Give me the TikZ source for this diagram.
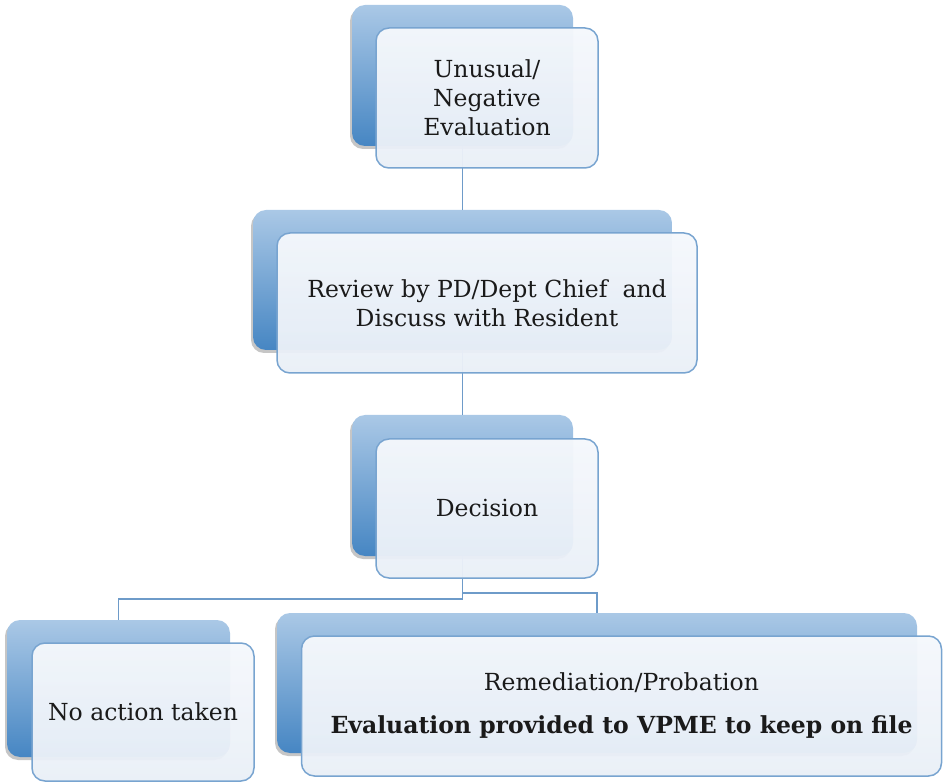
\documentclass[tikz,border=0pt]{standalone}
\usepackage{fontspec}
\setmainfont{DejaVu Serif}
\usetikzlibrary{shadows}
\definecolor{backtop}{HTML}{AAC8E6}
\definecolor{backbot}{HTML}{4686C3}
\definecolor{frtop}{HTML}{F5F8FC}
\definecolor{frbot}{HTML}{E9EFF7}
\definecolor{edge}{HTML}{78A4D0}
\definecolor{conn}{HTML}{6E9BC9}
\definecolor{txt}{HTML}{1A1A1A}
\tikzset{
  backbox/.style={rounded corners=13pt, top color=backtop, bottom color=backbot, draw=none,
    drop shadow={shadow xshift=-2pt, shadow yshift=-3pt, opacity=0.45}},
  frontbox/.style={rounded corners=13pt, top color=frtop, bottom color=frbot, fill opacity=0.96,
    text opacity=1, draw=edge, line width=1.5pt, align=center, inner sep=0pt, text=txt,
    font=\fontsize{23.5}{29}\selectfont},
  connector/.style={draw=conn, line width=1.7pt}
}
\begin{document}
\begin{tikzpicture}[x=1pt,y=-1pt]
\useasboundingbox (0,0) rectangle (943,783);
% back boxes
\node[backbox, minimum width=221pt, minimum height=141pt] (b1) at (462.5,75.5) {};
\node[backbox, minimum width=419pt, minimum height=140pt] (b2) at (462.5,280) {};
\node[backbox, minimum width=221pt, minimum height=141pt] (b3) at (462.5,485.5) {};
\node[backbox, minimum width=223pt, minimum height=137pt] (b4) at (118.5,688.5) {};
\node[backbox, minimum width=640pt, minimum height=140pt] (b5) at (597,683) {};
% connectors
\draw[connector] (b1.south) -- (b2.north);
\draw[connector] (b2.south) -- (b3.north);
\draw[connector] (b3.south) -- ++(0,43) -| (b4.north);
\draw[connector] (b3.south) ++(0,37) coordinate (split) -| (b5.north);
% front boxes
\node[frontbox, minimum width=222pt, minimum height=140pt] (f1) at (487,98) {Unusual/\\Negative\\Evaluation};
\node[frontbox, minimum width=420pt, minimum height=140pt] (f2) at (487,303) {Review by PD/Dept Chief~ and\\Discuss with Resident};
\node[frontbox, minimum width=222pt, minimum height=139pt] (f3) at (487,508.5) {Decision};
\node[frontbox, minimum width=222pt, minimum height=138pt] (f4) at (143,712) {No action taken};
\node[frontbox, minimum width=640pt, minimum height=140pt] (f5) at (621.5,706) {Remediation/Probation\\[14pt]\textbf{Evaluation provided to VPME to keep on file}};
\end{tikzpicture}
\end{document}
